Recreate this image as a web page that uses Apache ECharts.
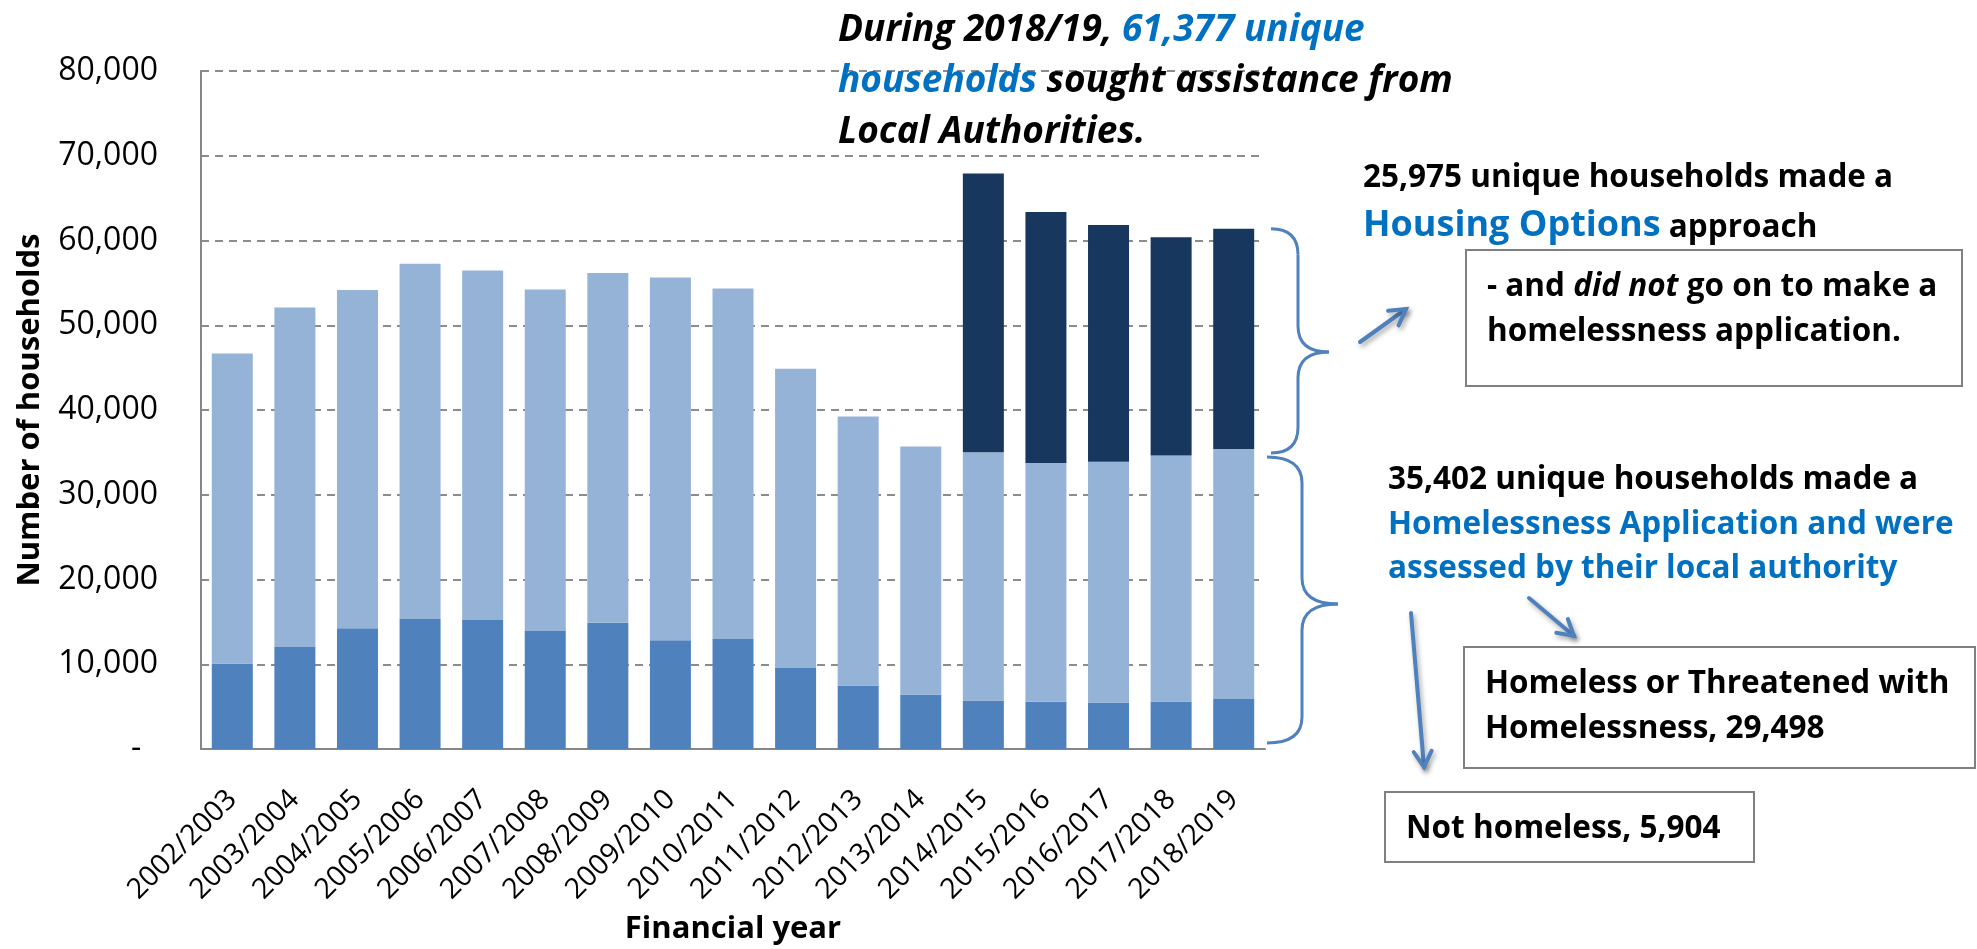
<!DOCTYPE html>
<html>
<head>
<meta charset="utf-8">
<script src="https://cdn.jsdelivr.net/npm/echarts@6/dist/echarts.min.js"></script>
<style>
  html, body { margin: 0; padding: 0; background: #fff; }
  #chart { width: 1977px; height: 949px; }
</style>
</head>
<body>
<div id="chart"></div>
<script>
var categories = ['2002/2003', '2003/2004', '2004/2005', '2005/2006', '2006/2007', '2007/2008',
  '2008/2009', '2009/2010', '2010/2011', '2011/2012', '2012/2013', '2013/2014',
  '2014/2015', '2015/2016', '2016/2017', '2017/2018', '2018/2019'];
// bottom segment: not homeless
var notHomeless = [10080, 12040, 14240, 15330, 15220, 13920, 14900, 12820, 12980, 9570,
  7490, 6430, 5730, 5570, 5490, 5610, 5904];
// middle segment: homeless or threatened with homelessness
var homeless = [36590, 40050, 39930, 41940, 41230, 40290, 41270, 42800, 41350, 35300,
  31730, 29250, 29290, 28170, 28410, 29030, 29498];
// top segment: housing options approach only (from 2014/15)
var housingOptions = [null, null, null, null, null, null, null, null, null, null,
  null, null, 32890, 29620, 27930, 25730, 25975];
var yTicks = [0, 10000, 20000, 30000, 40000, 50000, 60000, 70000, 80000];

var FONT = '"Open Sans", "Noto Sans", sans-serif';
var BLUE_TXT = '#0070C0';
var ARROW = '#4F81BD';

var chartDom = document.getElementById('chart');
var myChart = echarts.init(chartDom);

var option = {
  backgroundColor: '#fff',
  animation: false,
  grid: { left: 201, right: 712, top: 71, bottom: 200, containLabel: false, outerBoundsMode: 'none' },
  xAxis: {
    type: 'category',
    data: categories,
    name: 'Financial year',
    nameLocation: 'middle',
    nameGap: 165,
    nameMoveOverlap: false,
    nameTextStyle: { fontFamily: FONT, fontSize: 31, fontWeight: 'bold', color: '#000' },
    axisLine: { lineStyle: { color: '#868686', width: 2 } },
    axisTick: { show: false },
    axisLabel: { rotate: 45, margin: 46, fontFamily: FONT, fontSize: 28.5, color: '#000', interval: 0 }
  },
  yAxis: {
    type: 'value',
    min: yTicks[0],
    max: yTicks[yTicks.length - 1],
    interval: yTicks[1] - yTicks[0],
    name: 'Number of households',
    nameLocation: 'middle',
    nameGap: 155,
    nameRotate: 90,
    nameMoveOverlap: false,
    nameTextStyle: { fontFamily: FONT, fontSize: 31, fontWeight: 'bold', color: '#000' },
    axisLine: { show: true, lineStyle: { color: '#868686', width: 2 } },
    axisTick: { show: false },
    axisLabel: {
      margin: 43, fontFamily: FONT, fontSize: 32, color: '#000',
      formatter: function (v) { return v === 0 ? '-  ' : v.toLocaleString('en-US'); }
    },
    splitLine: { lineStyle: { color: '#8c8c8c', width: 2, type: [8, 6] } }
  },
  series: [
    { name: 'Not homeless', type: 'bar', stack: 'total', barWidth: 41,
      itemStyle: { color: '#4F81BD' }, data: notHomeless },
    { name: 'Homeless or threatened with homelessness', type: 'bar', stack: 'total',
      itemStyle: { color: '#95B3D7' }, data: homeless },
    { name: 'Housing Options approach', type: 'bar', stack: 'total',
      itemStyle: { color: '#17375E' }, data: housingOptions }
  ]
};

option && myChart.setOption(option);

// ---- annotations ----
function tokenStyle(color, size, italic) {
  return { fontFamily: FONT, fontSize: size, fontWeight: 'bold', fontStyle: italic ? 'italic' : 'normal',
    fill: color, verticalAlign: 'bottom', lineHeight: size * 1.2 };
}
var rich = {
  k: tokenStyle('#000', 31.5), b: tokenStyle(BLUE_TXT, 31.5),
  ki: tokenStyle('#000', 31.5, true), big: tokenStyle(BLUE_TXT, 36),
  tk: tokenStyle('#000', 37, true), tb: tokenStyle(BLUE_TXT, 37, true)
};
function txt(x, y, text) {
  return { type: 'text', x: x, y: y, z: 100,
    style: { text: text, rich: rich, fontFamily: FONT, fontSize: 31, fontWeight: 'bold',
      fill: '#000', verticalAlign: 'middle', textAlign: 'left' } };
}
function box(x, y, w, h) {
  return { type: 'rect', z: 90, shape: { x: x, y: y, width: w, height: h },
    style: { fill: '#fff', stroke: '#7F7F7F', lineWidth: 2 } };
}
function arrow(x1, y1, x2, y2) {
  var a = Math.atan2(y2 - y1, x2 - x1), L = 18, w = Math.PI / 6;
  var st = { stroke: ARROW, lineWidth: 4, lineCap: 'round', fill: null,
    shadowBlur: 5, shadowColor: 'rgba(0,0,0,0.35)', shadowOffsetX: 2, shadowOffsetY: 3 };
  return [
    { type: 'line', z: 95, shape: { x1: x1, y1: y1, x2: x2, y2: y2 }, style: st },
    { type: 'polyline', z: 95, shape: { points: [
      [x2 - L * Math.cos(a - w), y2 - L * Math.sin(a - w)], [x2, y2],
      [x2 - L * Math.cos(a + w), y2 - L * Math.sin(a + w)]] }, style: st }
  ];
}
function brace(x0, xs, xt, yt, yb, ym) {
  var r = 26;
  var st = { stroke: ARROW, lineWidth: 3, fill: null };
  function q(x1, y1, cx, cy, x2, y2) {
    return { type: 'bezierCurve', z: 95, shape: { x1: x1, y1: y1, cpx1: cx, cpy1: cy, x2: x2, y2: y2 }, style: st };
  }
  function l(x1, y1, x2, y2) {
    return { type: 'line', z: 95, shape: { x1: x1, y1: y1, x2: x2, y2: y2 }, style: st };
  }
  return [
    q(x0, yt, xs, yt, xs, yt + r),
    l(xs, yt + r, xs, ym - r),
    q(xs, ym - r, xs, ym, xt, ym),
    q(xt, ym, xs, ym, xs, ym + r),
    l(xs, ym + r, xs, yb - r),
    q(xs, yb - r, xs, yb, x0, yb)
  ];
}

var last = categories.length - 1;
var total = notHomeless[last] + homeless[last] + housingOptions[last];
var assessed = notHomeless[last] + homeless[last];
var yTotal = myChart.convertToPixel({ yAxisIndex: 0 }, total);
var yAssessed = myChart.convertToPixel({ yAxisIndex: 0 }, assessed);
var yZero = myChart.convertToPixel({ yAxisIndex: 0 }, 0);

var graphics = [
  txt(838, 27, '{tk|During 2018/19, }{tb|61,377 unique}'),
  txt(838, 78, '{tb|households}{tk| sought assistance from}'),
  txt(838, 129, '{tk|Local Authorities.}'),

  txt(1363, 175, '{k|25,975 unique households made a}'),
  txt(1363, 222, '{big|Housing Options}{k| approach}'),
  box(1466, 250, 496, 136),
  txt(1487, 284, '{k|- and }{ki|did not}{k| go on to make a}'),
  txt(1487, 329, '{k|homelessness application.}'),

  txt(1388, 477, '{k|35,402 unique households made a}'),
  txt(1388, 522, '{b|Homelessness Application and were}'),
  txt(1388, 566, '{b|assessed by their local authority}'),

  box(1464, 647, 511, 121),
  txt(1485, 681, '{k|Homeless or Threatened with}'),
  txt(1485, 726, '{k|Homelessness, 29,498}'),
  box(1385, 792, 369, 70),
  txt(1406, 826, '{k|Not homeless, 5,904}')
];
graphics = graphics
  .concat(brace(1271, 1298, 1329, yTotal, yAssessed + 4, 352))
  .concat(brace(1267, 1302, 1338, yAssessed + 8, yZero - 6, 604))
  .concat(arrow(1360, 342, 1406, 309))
  .concat(arrow(1411, 613, 1424, 767))
  .concat(arrow(1529, 598, 1574, 636));

myChart.setOption({ graphic: graphics });
</script>
</body>
</html>
